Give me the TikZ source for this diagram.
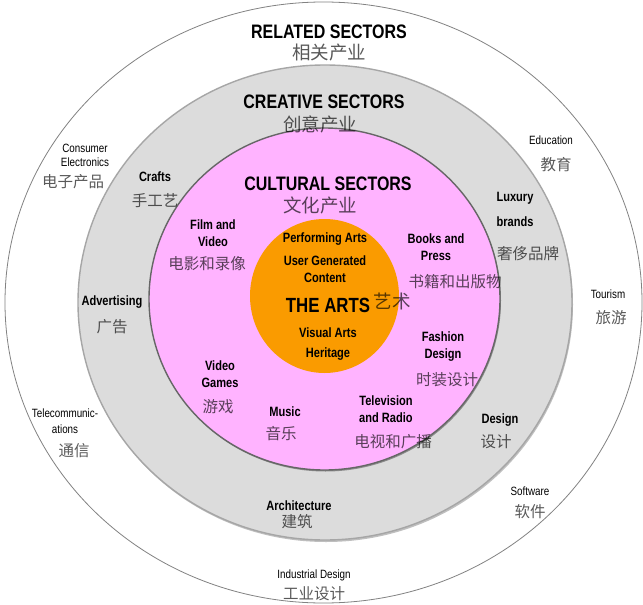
\documentclass[tikz,border=0pt]{standalone}
\usepackage{fontspec}
\setmainfont{Liberation Sans}
\newfontfamily\narrow[FakeStretch=0.82]{Liberation Sans}
\newfontfamily\cjk{Noto Sans CJK SC}
\definecolor{ringgray}{RGB}{220,220,220}
\definecolor{culturepink}{RGB}{255,179,255}
\definecolor{artsorange}{RGB}{250,155,0}
\definecolor{edgegray}{RGB}{130,130,130}
\tikzset{
  outerline/.style={draw=edgegray, line width=0.8pt},
  ringline/.style={draw=black!35, fill=ringgray, line width=1.4pt},
  pinkline/.style={draw=black!60, fill=culturepink, line width=1.4pt},
  orangefill/.style={fill=artsorange},
  hd/.style={font=\narrow\bfseries\fontsize{19.5}{21}\selectfont, inner sep=0pt, align=center},
  lbl/.style={font=\narrow\bfseries\fontsize{13.5}{17}\selectfont, inner sep=0pt, align=center},
  lblsm/.style={font=\narrow\fontsize{12}{15}\selectfont, inner sep=0pt, align=center},
  zh/.style={font=\cjk\fontsize{15.5}{17}\selectfont, inner sep=0pt, text opacity=0.65},
  zhb/.style={font=\cjk\fontsize{18.5}{20}\selectfont, inner sep=0pt, text opacity=0.65},
}
\begin{document}
\begin{tikzpicture}[x=1pt,y=-1pt]
\useasboundingbox (0,0) rectangle (643,605);
\fill[white] (0,0) rectangle (643,605);
% circles
\draw[outerline] (323.5,302.5) ellipse [x radius=318.5pt, y radius=300.5pt];
\fill[black!25] (326,304.5) ellipse [x radius=247pt, y radius=237.5pt];
\path[ringline] (325,302.5) ellipse [x radius=247pt, y radius=237.5pt];
\fill[black!45] (325.5,300.5) ellipse [x radius=175.5pt, y radius=171pt];
\path[pinkline] (324.5,299) ellipse [x radius=175.5pt, y radius=171pt];
\path[orangefill] (324.5,296) ellipse [x radius=74.5pt, y radius=77pt];
% headings
\node[hd] (related) at (329,32) {RELATED SECTORS};
\node[zhb] (relatedzh) at (329,53) {相关产业};
\node[hd] (creative) at (324,102) {CREATIVE SECTORS};
\node[zhb] (creativezh) at (320,124) {创意产业};
\node[hd] (cultural) at (328,184) {CULTURAL SECTORS};
\node[zhb] (culturalzh) at (320,205) {文化产业};
% related sectors
\node[lblsm, font=\narrow\fontsize{12}{14}\selectfont] (consumer) at (85,155) {Consumer\\Electronics};
\node[zh] (consumerzh) at (73,182) {电子产品};
\node[lblsm] (education) at (551,140) {Education};
\node[zh] (educationzh) at (556,165) {教育};
\node[lblsm] (tourism) at (608,294) {Tourism};
\node[zh] (tourismzh) at (611,318) {旅游};
\node[lblsm, font=\narrow\fontsize{12}{16}\selectfont] (telecom) at (65,421) {Telecommunic-\\ations};
\node[zh] (telecomzh) at (74,451) {通信};
\node[lblsm] (software) at (530,491) {Software};
\node[zh] (softwarezh) at (530,512) {软件};
\node[lblsm] (industrial) at (314,575) {Industrial Design};
\node[zh] (industrialzh) at (314,594) {工业设计};
% creative sectors
\node[lbl] (crafts) at (155,177) {Crafts};
\node[zh] (craftszh) at (155,201) {手工艺};
\node[lbl, font=\narrow\bfseries\fontsize{13.5}{25}\selectfont] (luxury) at (515,209.5) {Luxury\\brands};
\node[zh] (luxuryzh) at (528,254) {奢侈品牌};
\node[lbl] (advertising) at (112,302) {Advertising};
\node[zh] (advertisingzh) at (112,327) {广告};
\node[lbl] (design) at (500,420) {Design};
\node[zh] (designzh) at (496,442) {设计};
\node[lbl] (architecture) at (299,506) {Architecture};
\node[zh] (architecturezh) at (297,522) {建筑};
% cultural sectors
\node[lbl] (film) at (213,233.5) {Film and\\Video};
\node[zh] (filmzh) at (207,264) {电影和录像};
\node[lbl] (books) at (436,247.5) {Books and\\Press};
\node[zh] (bookszh) at (455,282) {书籍和出版物};
\node[lbl] (fashion) at (443,346.5) {Fashion\\Design};
\node[zh] (fashionzh) at (447,380) {时装设计};
\node[lbl] (games) at (220,374.5) {Video\\Games};
\node[zh] (gameszh) at (218,407) {游戏};
\node[lbl] (music) at (285,412) {Music};
\node[zh] (musiczh) at (281,434) {音乐};
\node[lbl] (tv) at (386,409.5) {Television\\and Radio};
\node[zh] (tvzh) at (393,442) {电视和广播};
% the arts
\node[lbl] (performing) at (325,239) {Performing Arts};
\node[lbl] (usergen) at (325,269) {User Generated\\Content};
\node[hd, font=\narrow\bfseries\fontsize{20.5}{22}\selectfont] (thearts) at (328,305) {THE ARTS};
\node[zhb] (artszh) at (392,301) {艺术};
\node[lbl] (visual) at (328,333) {Visual Arts};
\node[lbl] (heritage) at (328,354) {Heritage};
\end{tikzpicture}
\end{document}
